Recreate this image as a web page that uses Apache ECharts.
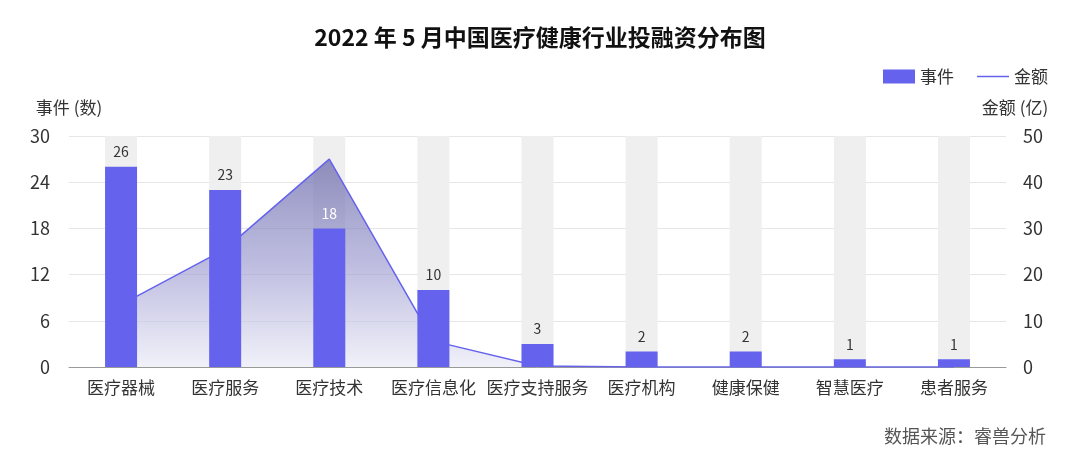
<!DOCTYPE html>
<html lang="zh">
<head>
    <meta charset="UTF-8">
    <title>2022年5月中国医疗健康行业投融资分布图</title>
    <style>
        html, body { margin: 0; padding: 0; background: #fff; }
        #chart { width: 1080px; height: 462px; }
    </style>
</head>
<body>
<div id="chart"></div>
<script src="https://cdn.jsdelivr.net/npm/echarts@6/dist/echarts.min.js"></script>
<script>
    var categories = ['医疗器械', '医疗服务', '医疗技术', '医疗信息化', '医疗支持服务', '医疗机构', '健康保健', '智慧医疗', '患者服务'];
    var events = [26, 23, 18, 10, 3, 2, 2, 1, 1];        // 事件（数）
    var amounts = [13.5, 25.5, 45, 5.6, 0.2, 0, 0, 0, 0]; // 金额（亿）
    var leftTicks = [0, 6, 12, 18, 24, 30];
    var rightTicks = [0, 10, 20, 30, 40, 50];

    var font = '"Noto Sans CJK SC", "Noto Sans", sans-serif';
    var barColor = '#6563ee';

    var _chart = echarts.init(document.getElementById('chart'));

    var option = {
        backgroundColor: '#fff',
        textStyle: { fontFamily: font },
        title: [{
            text: '2022 年 5 月中国医疗健康行业投融资分布图',
            left: 'center',
            top: 21,
            textStyle: { fontSize: 23, fontWeight: 'bold', color: '#111', fontFamily: font }
        }, {
            text: '数据来源：睿兽分析',
            right: 29,
            top: 422,
            textStyle: { fontSize: 18, fontWeight: 'normal', color: '#555', fontFamily: font }
        }],
        legend: {
            right: 27,
            top: 63,
            itemWidth: 32,
            itemHeight: 14,
            itemGap: 23,
            textStyle: { fontSize: 17, color: '#333' },
            data: [
                { name: '事件', icon: 'rect' },
                // 只要一条细线，不要圆点
                { name: '金额', icon: 'path://M0,0 L32,0 L32,1.5 L0,1.5 Z' }
            ]
        },
        grid: { left: 69, right: 74, top: 136, bottom: 95 },
        xAxis: {
            type: 'category',
            data: categories,
            axisTick: { show: false },
            axisLine: { lineStyle: { color: '#999' } },
            axisLabel: { fontSize: 17, color: '#333', margin: 12, interval: 0 }
        },
        yAxis: [{
            type: 'value',
            name: '事件 (数)',
            nameGap: 20,
            nameTextStyle: { fontSize: 17, color: '#333' },
            min: leftTicks[0],
            max: leftTicks[leftTicks.length - 1],
            interval: leftTicks[1] - leftTicks[0],
            axisLabel: { fontSize: 18, color: '#333', margin: 19 },
            splitLine: { lineStyle: { color: '#e6e6e6' } }
        }, {
            type: 'value',
            name: '金额 (亿)',
            nameGap: 20,
            nameTextStyle: { fontSize: 17, color: '#333', padding: [0, 0, 0, 18] },
            min: rightTicks[0],
            max: rightTicks[rightTicks.length - 1],
            interval: rightTicks[1] - rightTicks[0],
            axisLabel: { fontSize: 18, color: '#333', margin: 17 },
            splitLine: { show: false }
        }],
        series: [{
            // 灰色背景柱
            name: 'bg',
            type: 'bar',
            data: events,
            barWidth: 32,
            z: 1,
            silent: true,
            itemStyle: { color: 'rgba(0,0,0,0)' },
            showBackground: true,
            backgroundStyle: { color: '#efefef' }
        }, {
            name: '金额',
            type: 'line',
            yAxisIndex: 1,
            data: amounts,
            z: 2,
            symbol: 'none',
            lineStyle: { color: barColor, width: 1.5 },
            itemStyle: { color: barColor },
            areaStyle: {
                color: new echarts.graphic.LinearGradient(0, 0, 0, 1, [
                    { offset: 0, color: 'rgba(100,98,165,1)' },
                    { offset: 0.5, color: 'rgba(150,149,205,0.9)' },
                    { offset: 1, color: 'rgba(232,232,246,0.9)' }
                ])
            }
        }, {
            name: '事件',
            type: 'bar',
            data: events.map(function (v, i) {
                // 18 落在面积区里，标签是白色
                return i === 2 ? { value: v, label: { color: '#fff' } } : v;
            }),
            barWidth: 32,
            barGap: '-100%',
            z: 3,
            itemStyle: { color: barColor },
            label: { show: true, position: 'top', distance: 8, fontSize: 14, color: '#333' }
        }]
    };
    _chart.setOption(option, true);
</script>
</body>
</html>
